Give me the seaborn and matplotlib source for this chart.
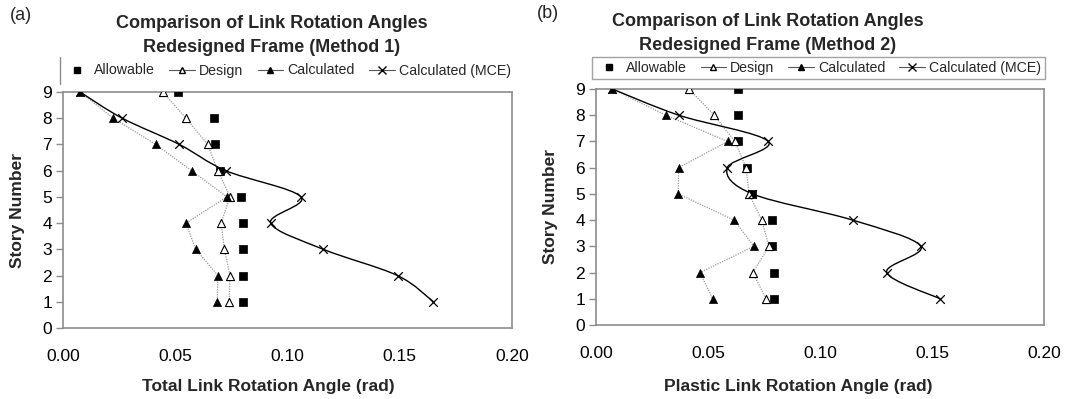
import numpy as np
import matplotlib
matplotlib.use("Agg")
import matplotlib.pyplot as plt
import seaborn as sns
from matplotlib.path import Path
from matplotlib.patches import PathPatch
from matplotlib.lines import Line2D

# ---------------- data ----------------
stories = [9, 8, 7, 6, 5, 4, 3, 2, 1]

a_allowable = [0.0514, 0.0673, 0.0675, 0.0699, 0.0791, 0.0800, 0.0800, 0.0800, 0.0800]
a_design = [0.0444, 0.0548, 0.0644, 0.0690, 0.0744, 0.0704, 0.0719, 0.0744, 0.0740]
a_calculated = [0.0076, 0.0224, 0.0413, 0.0573, 0.0730, 0.0548, 0.0591, 0.0690, 0.0687]
a_mce = [0.0076, 0.0264, 0.0518, 0.0725, 0.1060, 0.0925, 0.1160, 0.1490, 0.1650]

b_allowable = [0.0635, 0.0635, 0.0635, 0.0673, 0.0698, 0.0784, 0.0787, 0.0796, 0.0796]
b_design = [0.0415, 0.0528, 0.0620, 0.0670, 0.0683, 0.0740, 0.0772, 0.0700, 0.0759]
b_calculated = [0.0073, 0.0312, 0.0588, 0.0369, 0.0367, 0.0616, 0.0705, 0.0464, 0.0521]
b_mce = [0.0073, 0.0370, 0.0769, 0.0586, 0.0698, 0.1146, 0.1450, 0.1298, 0.1536]

series_names = ["Allowable", "Design", "Calculated", "Calculated (MCE)"]
x_ticks = [0.00, 0.05, 0.10, 0.15, 0.20]
y_ticks = [0, 1, 2, 3, 4, 5, 6, 7, 8, 9]

panel_labels = ["(a)", "(b)"]
title_line1 = "Comparison of Link Rotation Angles"
title_line2 = ["Redesigned Frame (Method 1)", "Redesigned Frame (Method 2)"]
x_labels = ["Total Link Rotation Angle (rad)", "Plastic Link Rotation Angle (rad)"]
y_label = "Story Number"

# ---------------- style ----------------
sns.set_theme(style="white")
plt.rcParams["font.family"] = ["Liberation Sans", "DejaVu Sans"]

W, H = 1067, 399
fig = plt.figure(figsize=(W / 100, H / 100), dpi=100)
fig.patch.set_facecolor("white")

GRAY = "#8c8c8c"
LINEGRAY = "#9a9a9a"


def px_axes(x0, x1, y0, y1):
    return [x0 / W, 1 - y1 / H, (x1 - x0) / W, (y1 - y0) / H]


def smooth_path(xs, ys):
    pts = np.column_stack([xs, ys])
    n = len(pts)
    verts = [pts[0]]
    codes = [Path.MOVETO]
    for i in range(n - 1):
        p0 = pts[i - 1] if i > 0 else pts[i]
        p1 = pts[i]
        p2 = pts[i + 1]
        p3 = pts[i + 2] if i + 2 < n else pts[i + 1]
        c1 = p1 + (p2 - p0) / 6.0
        c2 = p2 - (p3 - p1) / 6.0
        verts += [c1, c2, p2]
        codes += [Path.CURVE4] * 3
    return Path(verts, codes)


axes_px = [(63, 512, 92, 328), (596, 1044, 89, 325)]
title_cx = [272, 768]
title_y = [(24, 47), (22, 45)]
panel_xy = [(10, 16), (537, 14)]
legend_box = [(60, 57, 455, 27), (592, 55, 453, 26)]
legend_frame = [False, True]
xlabel_cx = [268, 798]
ylabel_cx = [18, 551]

datasets = [
    (a_allowable, a_design, a_calculated, a_mce),
    (b_allowable, b_design, b_calculated, b_mce),
]

for k in range(2):
    allow, design, calc, mce = datasets[k]
    x0, x1, y0, y1 = axes_px[k]
    ax = fig.add_axes(px_axes(x0, x1, y0, y1))
    ax.set_facecolor("white")

    # dotted connecting lines
    sns.lineplot(x=design, y=stories, sort=False, estimator=None, ax=ax,
                 color=LINEGRAY, linestyle=(0, (1, 1)), linewidth=0.9)
    sns.lineplot(x=calc, y=stories, sort=False, estimator=None, ax=ax,
                 color=LINEGRAY, linestyle=(0, (1, 1)), linewidth=0.9)
    # smoothed MCE line
    ax.add_patch(PathPatch(smooth_path(mce, stories), facecolor="none",
                           edgecolor="black", linewidth=1.0, zorder=3))

    sns.scatterplot(x=allow, y=stories, ax=ax, marker="s", s=28,
                    color="black", edgecolor="black", linewidth=0.5, zorder=5)
    sns.scatterplot(x=design, y=stories, ax=ax, marker="^", s=34,
                    facecolor="white", edgecolor="black", linewidth=0.8, zorder=5)
    sns.scatterplot(x=calc, y=stories, ax=ax, marker="^", s=34,
                    color="black", edgecolor="black", linewidth=0.5, zorder=5)
    sns.scatterplot(x=mce, y=stories, ax=ax, marker="x", s=38,
                    color="black", linewidth=0.9, zorder=6)

    ax.set_xlim(0, 0.2)
    ax.set_ylim(0, 9)
    ax.set_xticks(x_ticks)
    ax.set_xticklabels([f"{v:.2f}" for v in x_ticks])
    ax.set_yticks(y_ticks)
    ax.set_yticklabels([str(v) for v in y_ticks])
    ax.tick_params(axis="x", length=0, pad=15, labelsize=12.5, colors="black")
    ax.tick_params(axis="y", length=5, width=1, color=GRAY, pad=3,
                   labelsize=12.5, labelcolor="black", left=True, direction="out")
    for sp in ax.spines.values():
        sp.set_visible(True)
        sp.set_color(GRAY)
        sp.set_linewidth(1.2)

    ax.set_xlabel(x_labels[k], fontsize=12.5, fontweight="bold")
    ax.set_ylabel(y_label, fontsize=12.5, fontweight="bold")
    ax.xaxis.set_label_coords((xlabel_cx[k] - x0) / (x1 - x0),
                              -(387 - y1) / (y1 - y0))
    ax.yaxis.set_label_coords((ylabel_cx[k] - x0) / (x1 - x0), 0.5)
    ax.xaxis.label.set_va("center")
    ax.yaxis.label.set_va("center")

    # titles
    fig.text(title_cx[k] / W, 1 - title_y[k][0] / H, title_line1, ha="center",
             va="center", fontsize=13, fontweight="bold")
    fig.text(title_cx[k] / W, 1 - title_y[k][1] / H, title_line2[k], ha="center",
             va="center", fontsize=13, fontweight="bold")
    fig.text(panel_xy[k][0] / W, 1 - panel_xy[k][1] / H, panel_labels[k],
             ha="left", va="center", fontsize=13)

    # legend
    handles = [
        Line2D([], [], linestyle="none", marker="s", markersize=5,
               color="black"),
        Line2D([], [], color="#555555", linewidth=0.8, marker="^", markersize=5,
               markerfacecolor="white", markeredgecolor="black"),
        Line2D([], [], color="#555555", linewidth=0.8, marker="^", markersize=5,
               markerfacecolor="black", markeredgecolor="black"),
        Line2D([], [], color="#555555", linewidth=0.8, marker="x", markersize=5.5,
               markeredgecolor="black"),
    ]
    lx, ly, lw, lh = legend_box[k]
    leg = ax.legend(handles, series_names, ncol=4, loc="center",
                    bbox_to_anchor=(lx / W, 1 - (ly + lh) / H, lw / W, lh / H),
                    bbox_transform=fig.transFigure, mode="expand",
                    fontsize=10.2, frameon=legend_frame[k], fancybox=False,
                    edgecolor=GRAY, handlelength=1.8, handletextpad=0.3,
                    columnspacing=0.5, borderaxespad=0, borderpad=0.3)
    leg.get_frame().set_linewidth(1.0)
    if not legend_frame[k]:
        # only the left edge of the legend box shows in panel (a)
        fig.add_artist(Line2D([lx / W, lx / W], [1 - ly / H, 1 - (ly + lh) / H],
                              color=GRAY, linewidth=1.0))

fig.savefig("out.png", dpi=100, facecolor="white")
